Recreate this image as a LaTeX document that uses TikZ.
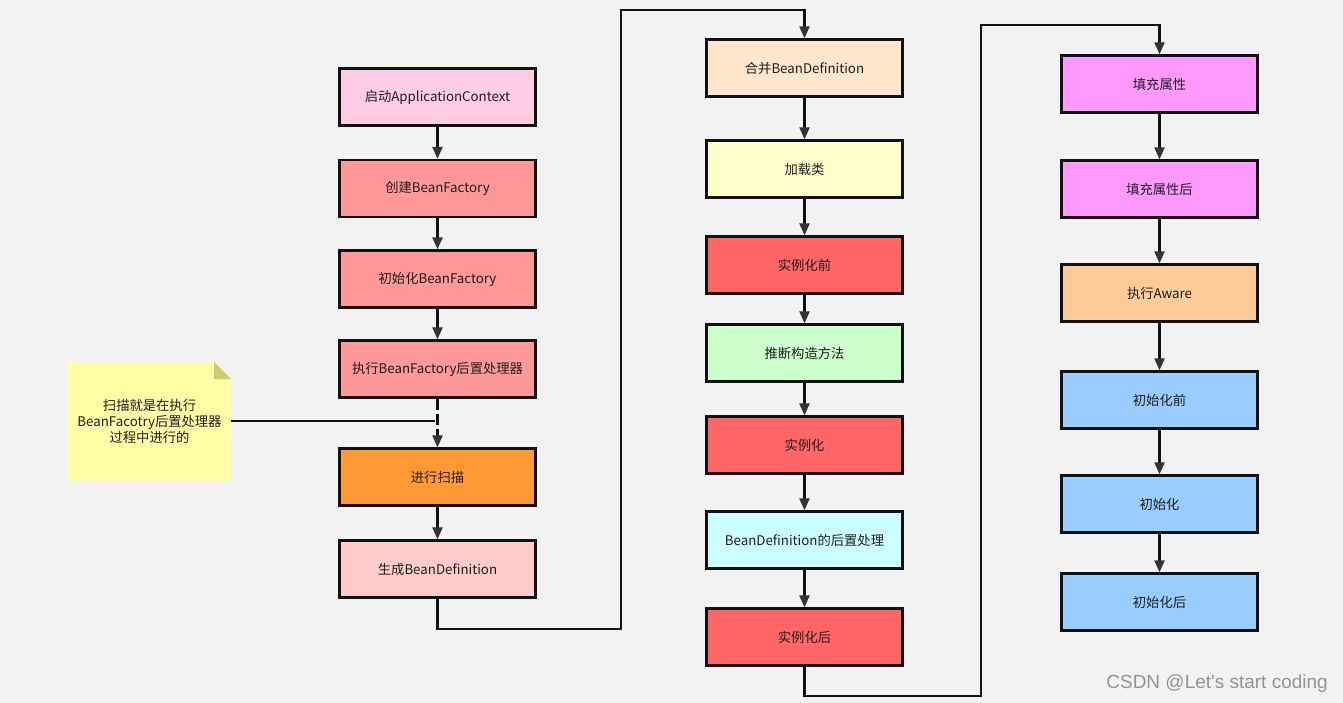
\documentclass[tikz,border=0pt]{standalone}
\usepackage{fontspec}
\setmainfont{Noto Sans CJK SC}
\newfontfamily\wmfont{Liberation Sans}
\usetikzlibrary{arrows.meta}
\definecolor{bg}{HTML}{F2F2F2}
\definecolor{cStart}{HTML}{FFCCE6}
\definecolor{cRed}{HTML}{FF9999}
\definecolor{cOrange}{HTML}{FF9933}
\definecolor{cPink}{HTML}{FFCCCC}
\definecolor{cMerge}{HTML}{FFE6CC}
\definecolor{cYellow}{HTML}{FFFFCC}
\definecolor{cInst}{HTML}{FF6666}
\definecolor{cGreen}{HTML}{CCFFCC}
\definecolor{cCyan}{HTML}{CCFFFF}
\definecolor{cMag}{HTML}{FF99FF}
\definecolor{cAware}{HTML}{FFCC99}
\definecolor{cBlue}{HTML}{99CCFF}
\definecolor{cNote}{HTML}{FFFFA6}
\definecolor{cFold}{HTML}{CCCC70}
\definecolor{lineC}{HTML}{111111}
\definecolor{tipC}{HTML}{333333}
\begin{document}
\begin{tikzpicture}[x=1pt,y=-1pt,
  stepbox/.style={draw=lineC,line width=2.3pt,minimum width=196pt,minimum height=57pt,inner sep=0pt,font=\fontsize{13.3}{16}\selectfont,text=black!88},
  flow/.style={draw=lineC,line width=2.2pt,-{Triangle[length=12pt,width=10pt,color=tipC]}},
  link/.style={draw=lineC,line width=2.2pt}]
\fill[bg] (0,0) rectangle (1343,703);
\useasboundingbox (0,0) rectangle (1343,703);
% column 1
\node[stepbox,fill=cStart] (a1) at (437.5,97) {启动ApplicationContext};
\node[stepbox,fill=cRed] (a2) at (437.5,188.5) {创建BeanFactory};
\node[stepbox,fill=cRed] (a3) at (437.5,279) {初始化BeanFactory};
\node[stepbox,fill=cRed] (a4) at (437.5,369) {执行BeanFactory后置处理器};
\node[stepbox,fill=cOrange] (a5) at (437.5,477) {进行扫描};
\node[stepbox,fill=cPink] (a6) at (437.5,569) {生成BeanDefinition};
% column 2
\node[stepbox,fill=cMerge] (b1) at (804.5,68) {合并BeanDefinition};
\node[stepbox,fill=cYellow] (b2) at (804.5,169) {加载类};
\node[stepbox,fill=cInst] (b3) at (804.5,265) {实例化前};
\node[stepbox,fill=cGreen] (b4) at (804.5,353) {推断构造方法};
\node[stepbox,fill=cInst] (b5) at (804.5,445) {实例化};
\node[stepbox,fill=cCyan] (b6) at (804.5,540) {BeanDefinition的后置处理};
\node[stepbox,fill=cInst] (b7) at (804.5,637) {实例化后};
% column 3
\node[stepbox,fill=cMag] (c1) at (1159.5,84) {填充属性};
\node[stepbox,fill=cMag] (c2) at (1159.5,189) {填充属性后};
\node[stepbox,fill=cAware] (c3) at (1159.5,293) {执行Aware};
\node[stepbox,fill=cBlue] (c4) at (1159.5,400) {初始化前};
\node[stepbox,fill=cBlue] (c5) at (1159.5,504) {初始化};
\node[stepbox,fill=cBlue] (c6) at (1159.5,602) {初始化后};
% note
\fill[cNote] (68,362) -- (214,362) -- (231,379) -- (231,481) -- (68,481) -- cycle;
\fill[cFold] (214,362) -- (231,379) -- (214,379) -- cycle;
\node[font=\fontsize{13.3}{16}\selectfont,text=black!88,align=center,inner sep=0pt] (note) at (149.5,421) {扫描就是在执行\\BeanFacotry后置处理器\\过程中进行的};
\coordinate (noteR) at (231,421);
\coordinate (noteEnd) at (435,421);
% connectors
\draw[flow] (a1) -- (a2);
\draw[flow] (a2) -- (a3);
\draw[flow] (a3) -- (a4);
\draw[flow,dash pattern=on 11pt off 4pt] (a4) -- (a5);
\draw[flow] (a5) -- (a6);
\draw[link] (noteR) -- (noteEnd);
\draw[flow] (a6.south) -- ++(0,30) -| (621,10) -| (b1.north);
\draw[flow] (b1) -- (b2);
\draw[flow] (b2) -- (b3);
\draw[flow] (b3) -- (b4);
\draw[flow] (b4) -- (b5);
\draw[flow] (b5) -- (b6);
\draw[flow] (b6) -- (b7);
\draw[flow] (b7.south) -- ++(0,29) -| (981,25) -| (c1.north);
\draw[flow] (c1) -- (c2);
\draw[flow] (c2) -- (c3);
\draw[flow] (c3) -- (c4);
\draw[flow] (c4) -- (c5);
\draw[flow] (c5) -- (c6);
% watermark
\node[font=\wmfont\fontsize{19}{22}\selectfont,text=black!42,anchor=east,inner sep=0pt] (wm) at (1328,684) {CSDN @Let's start coding};
\end{tikzpicture}
\end{document}
